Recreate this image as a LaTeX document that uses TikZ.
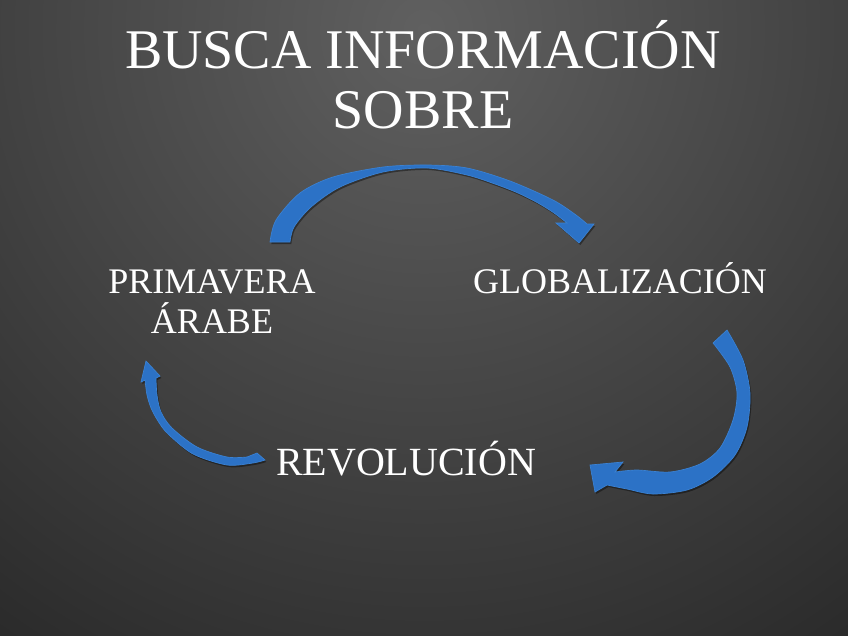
\documentclass[tikz,border=0pt]{standalone}
\usepackage{fontspec}
\setmainfont{Liberation Serif}
\usepackage{tikz}
\usetikzlibrary{shadows}

\definecolor{bglight}{RGB}{96,96,96}
\definecolor{bgdark}{RGB}{24,24,24}
\definecolor{arrowblue}{RGB}{44,114,198}
\definecolor{arrowedge}{RGB}{58,130,212}

\tikzset{
  blockarrow/.style={fill=arrowblue, draw=arrowedge, line width=0.5,
    drop shadow={shadow xshift=1pt, shadow yshift=-1.5pt, fill=black, opacity=0.4}},
  slidetext/.style={text=white, inner sep=0pt, anchor=base, align=center}
}

\begin{document}
\begin{tikzpicture}[x=0.75pt,y=0.75pt,yscale=-1,xscale=1]
\useasboundingbox (0,0) rectangle (848,635);

%Background
\begin{scope}
\clip (0,0) rectangle (848,635);
\fill [bgdark] (0,0) rectangle (848,635);
\shade [inner color=bglight, outer color=bgdark] (424,30) circle (1000);
\end{scope}

%Curve Arrow [top]
\path [blockarrow] plot [smooth] coordinates {(270,242) (276,220) (300,193) (333,177) (383,167) (427,165) (467,168) (510,181) (553,200) (576,215) (587,224)}
  -- (594,224) -- (579,243) -- (556,223)
  -- plot [smooth] coordinates {(567,223) (554,213) (538,203) (518,193) (495,184) (467,175) (427,168) (383,172) (340,187) (311,207) (294,227) (290,242)}
  -- cycle ;
%Curve Arrow [right]
\path [blockarrow] plot [smooth] coordinates {(727,330) (743,360) (750,393) (747,427) (735,455) (713,477) (687,490) (653,494) (627,489) (607,485)}
  -- (595,492) -- (590,465) -- (623,462)
  -- plot [smooth] coordinates {(615,472) (637,470) (670,472) (700,464) (720,448) (733,420) (737,393) (730,367) (713,343)}
  -- cycle ;
%Curve Arrow [left]
\path [blockarrow] plot [smooth] coordinates {(145,380) (147,395) (151,408) (158,421) (168,434) (193,454) (227,465) (253,463) (265,460)}
  -- (257,453)
  -- plot [smooth] coordinates {(247,457) (227,457) (197,447) (172,428) (161,412) (157,395) (156,378)}
  -- (160,376) -- (146,361) -- (141,382) -- cycle ;

% Text Node
\node [slidetext, font=\fontsize{42}{45}\selectfont] (title) at (423,128) {BUSCA INFORMACIÓN\\SOBRE};
% Text Node
\node [slidetext, font=\fontsize{27}{30}\selectfont] (primavera) at (212,333) {PRIMAVERA\\ÁRABE};
% Text Node
\node [slidetext, font=\fontsize{27}{30}\selectfont] (global) at (620,293) {GLOBALIZACIÓN};
% Text Node
\node [slidetext, font=\fontsize{30}{33}\selectfont] (revol) at (406,475) {REVOLUCIÓN};

\end{tikzpicture}
\end{document}
